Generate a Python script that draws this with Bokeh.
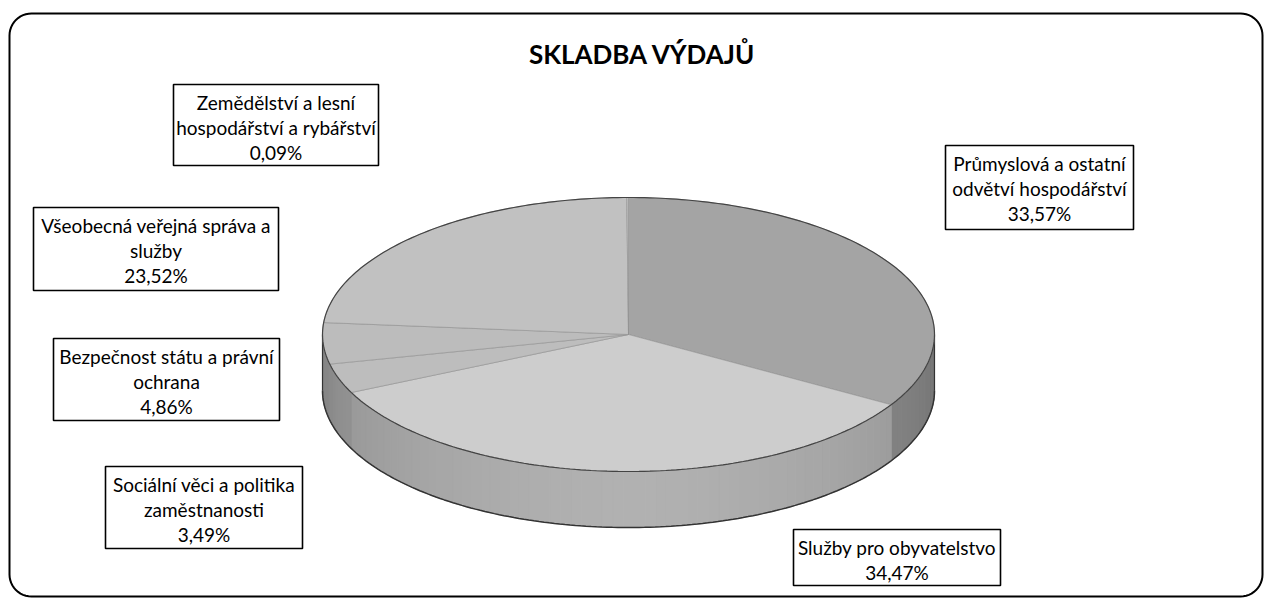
import math
from bokeh.plotting import figure
from bokeh.models import Range1d
from bokeh.core.properties import value
from bokeh.embed import file_html
from bokeh.resources import INLINE

# ---------------- data ----------------
title = "SKLADBA VÝDAJŮ"
categories = [
    "Průmyslová a ostatní odvětví hospodářství",
    "Služby pro obyvatelstvo",
    "Sociální věci a politika zaměstnanosti",
    "Bezpečnost státu a právní ochrana",
    "Všeobecná veřejná správa a služby",
    "Zemědělství a lesní hospodářství a rybářství",
]
shares = [33.57, 34.47, 3.49, 4.86, 23.52, 0.09]
label_lines = [
    ["Průmyslová a ostatní", "odvětví hospodářství"],
    ["Služby pro obyvatelstvo"],
    ["Sociální věci a politika", "zaměstnanosti"],
    ["Bezpečnost státu a právní", "ochrana"],
    ["Všeobecná veřejná správa a", "služby"],
    ["Zemědělství a lesní", "hospodářství a rybářství"],
]

# ---------------- layout / style ----------------
W, H = 1266, 598
FONT = "Lato"
top_colors = ["#a4a4a4", "#cdcdcd", "#bdbdbd", "#bcbcbc", "#c1c1c1", "#c0c0c0"]
side_colors = ["#8e8e8e", "#ababab", "#a2a2a2", "#a0a0a0", "#a2a2a2", "#a2a2a2"]
# label boxes: left, right, top, bottom (px)
boxes = [
    (945, 1133, 145, 229),
    (793, 1000, 529, 585),
    (105, 302, 466, 548),
    (53, 279, 338, 420),
    (33, 278, 207, 290),
    (173, 378, 84, 165),
]
cx, cy, rx, ry, depth = 628, 334, 306, 137, 56

p = figure(width=W, height=H, x_range=Range1d(0, W), y_range=Range1d(H, 0),
           output_backend="svg", toolbar_location=None, min_border=0,
           outline_line_color=None, x_axis_type=None, y_axis_type=None,
           background_fill_color="white", border_fill_color="white")
p.grid.visible = False

# rounded outer border
def rounded_rect(x0, y0, x1, y1, r, n=12):
    xs, ys = [], []
    corners = [(x1 - r, y0 + r, -90, 0), (x1 - r, y1 - r, 0, 90),
               (x0 + r, y1 - r, 90, 180), (x0 + r, y0 + r, 180, 270)]
    for (ccx, ccy, a0, a1) in corners:
        for i in range(n + 1):
            a = math.radians(a0 + (a1 - a0) * i / n)
            xs.append(ccx + r * math.cos(a))
            ys.append(ccy + r * math.sin(a))
    xs.append(xs[0]); ys.append(ys[0])
    return xs, ys

bx, by = rounded_rect(9, 13, 1262, 596, 22)
p.line(bx, by, line_color="black", line_width=2)

def pt(theta_deg, dy=0.0):
    t = math.radians(theta_deg)
    return cx + rx * math.sin(t), cy - ry * math.cos(t) + dy

# angles from the data (clockwise from 12 o'clock)
total = sum(shares)
starts, ends = [], []
acc = 0.0
for s in shares:
    starts.append(acc / total * 360.0)
    acc += s
    ends.append(acc / total * 360.0)

def shade(hex_color, f):
    r = int(hex_color[1:3], 16); g = int(hex_color[3:5], 16); b = int(hex_color[5:7], 16)
    c = lambda v: max(0, min(255, int(v * f)))
    return "#%02x%02x%02x" % (c(r), c(g), c(b))

# side walls (visible front half: 90..270 deg)
sx, sy, sc = [], [], []
for i in range(len(shares)):
    a, b = max(starts[i], 90.0), min(ends[i], 270.0)
    if a >= b:
        continue
    n = max(1, int((b - a) / 2))
    for k in range(n):
        t0 = a + (b - a) * k / n
        t1 = a + (b - a) * (k + 1) / n
        xs, ys = [], []
        for t in (t0, t1):
            x, y = pt(t); xs.append(x); ys.append(y)
        for t in (t1, t0):
            x, y = pt(t, depth); xs.append(x); ys.append(y)
        tm = math.radians((t0 + t1) / 2)
        f = 0.86 + 0.18 * math.cos(tm - math.pi) - 0.04 * abs(math.sin(tm))
        sx.append(xs); sy.append(ys); sc.append(shade(side_colors[i], f))
p.patches(sx, sy, fill_color=sc, line_color=sc, line_width=1)

# side outline
ox, oy = [], []
for k in range(0, 181):
    x, y = pt(90 + k); ox.append(x); oy.append(y + depth)
p.line(ox, oy, line_color="#333333", line_width=1.5)
for t in (90, 270):
    x, y = pt(t)
    p.line([x, x], [y, y + depth], line_color="#333333", line_width=1.2)

# top faces
tx, ty = [], []
for i in range(len(shares)):
    a, b = starts[i], ends[i]
    n = max(2, int((b - a) / 1.5))
    xs, ys = [cx], [cy]
    for k in range(n + 1):
        x, y = pt(a + (b - a) * k / n); xs.append(x); ys.append(y)
    tx.append(xs); ty.append(ys)
p.patches(tx, ty, fill_color=top_colors, line_color="#909090", line_width=0.6)

ex, ey = [], []
for k in range(0, 361):
    x, y = pt(k); ex.append(x); ey.append(y)
p.line(ex, ey, line_color="#444444", line_width=1.2)

# title
p.text(x=[642], y=[53], text=[title], text_font=value(FONT), text_font_style="bold",
       text_font_size="26px", text_align="center", text_baseline="middle", text_color="black")

# labels
for i in range(len(shares)):
    l, r, t, b = boxes[i]
    p.quad(left=[l], right=[r], top=[t], bottom=[b], fill_color="white",
           line_color="black", line_width=1.6)
    lines = label_lines[i] + [("%.2f" % shares[i]).replace(".", ",") + "%"]
    xs = [(l + r) / 2] * len(lines)
    ys = [t + 17.5 + 25 * k for k in range(len(lines))]
    p.text(x=xs, y=ys, text=lines, text_font=value(FONT), text_font_size="19px",
           text_align="center", text_baseline="middle", text_color="black")

open("out.html", "w").write(file_html(p, INLINE))
